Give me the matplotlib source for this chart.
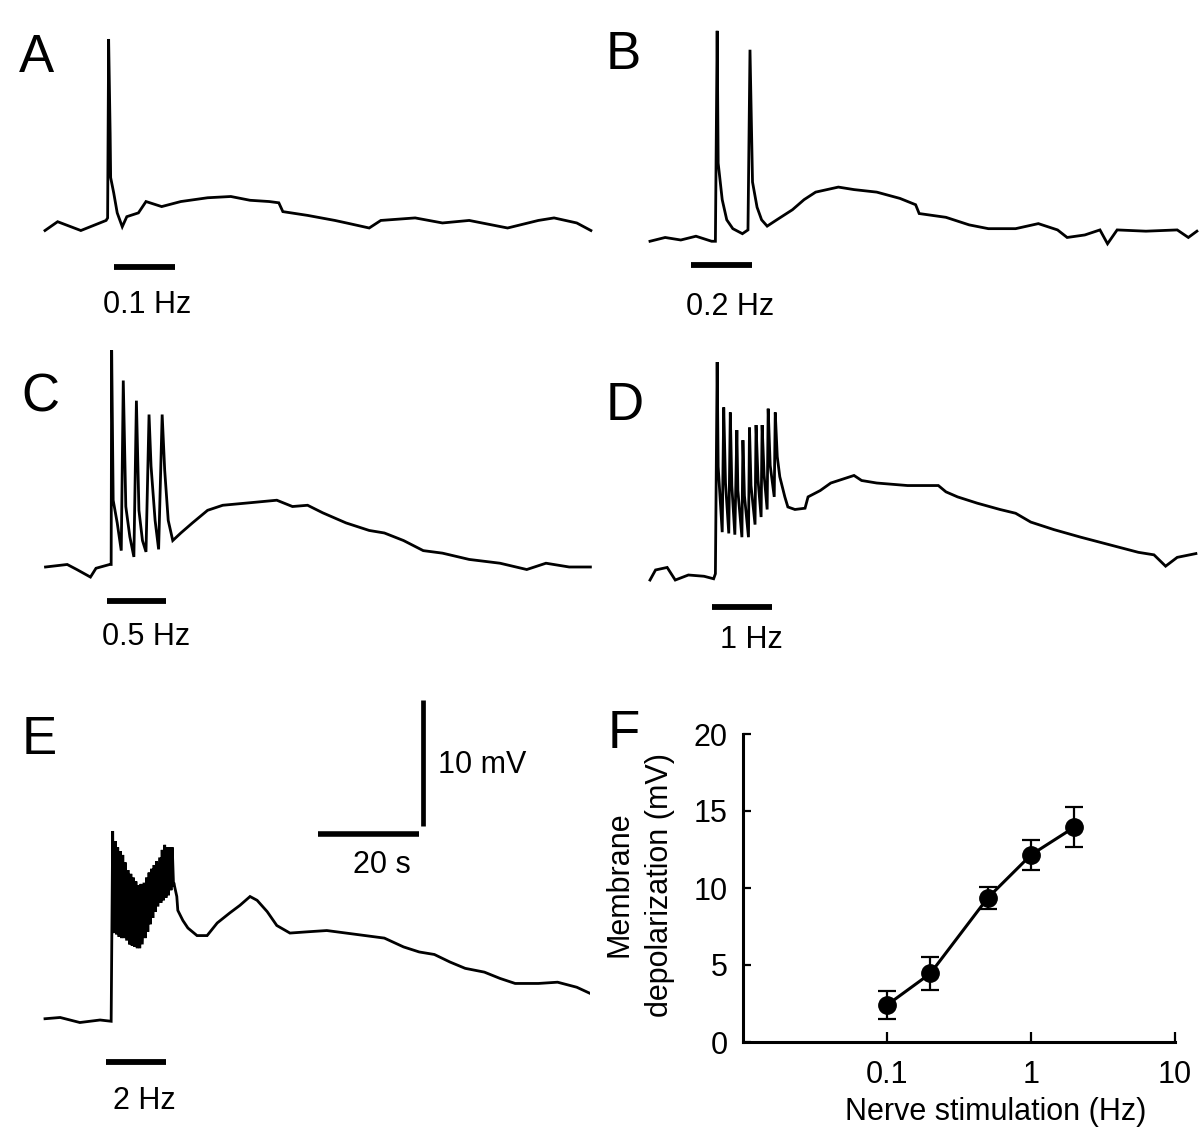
import numpy as np
import matplotlib
matplotlib.use("Agg")
import matplotlib.pyplot as plt

plt.rcParams['font.family'] = ['Liberation Sans', 'DejaVu Sans']

W, H = 1200, 1127
PX_PER_S = 5.05     # horizontal scale of the traces (20 s bar = 101 px)
PX_PER_MV = 12.6    # vertical scale of the traces (10 mV bar = 126 px)

# ---------------- data: traces (time in s, membrane potential in mV re. baseline) ----
A_t = [0, 2.5, 7.1, 12.1, 12.4, 12.6, 12.9, 13.0, 13.6, 14.3, 15.3, 16.2, 18.5, 20.0,
       23.1, 26.9, 32.2, 36.8, 40.6, 44.4, 46.3, 47.1, 52.0, 57.4, 59.7, 64.2, 66.5,
       73.3, 78.7, 84.0, 91.6, 97.7, 100.8, 105.3, 108.1]
A_v = [-0.2, 0.5, -0.2, 0.6, 0.8, 15.0, 7.5, 4.0, 2.8, 1.2, 0.1, 0.9, 1.2, 2.1,
       1.7, 2.1, 2.4, 2.5, 2.2, 2.1, 2.0, 1.3, 1.0, 0.6, 0.4, 0.0, 0.6,
       0.8, 0.4, 0.6, 0.0, 0.6, 0.8, 0.4, -0.2]

B_t = [0, 3.0, 6.1, 9.1, 12.2, 12.95, 13.3, 13.5, 14.3, 15.2, 16.4, 18.3, 19.4,
       19.8, 20.3, 21.2, 22.1, 23.2, 25.1, 28.2, 30.5, 32.8, 37.3, 40.4, 44.9, 49.5,
       52.6, 53.3, 58.6, 63.2, 67.0, 72.4, 76.9, 80.7, 82.6, 86.1, 89.1, 90.6, 92.5,
       98.2, 104.4, 106.6, 108.3]
B_v = [-0.1, 0.2, 0.0, 0.3, -0.1, -0.1, 16.6, 6.1, 3.2, 1.6, 0.9, 0.5, 0.8,
       15.1, 4.6, 2.6, 1.6, 1.1, 1.6, 2.4, 3.2, 3.8, 4.2, 4.0, 3.8, 3.3,
       2.8, 2.1, 1.8, 1.2, 0.9, 0.9, 1.3, 0.8, 0.2, 0.4, 0.8, -0.3, 0.8,
       0.7, 0.8, 0.2, 0.7]

C_t = [0.1, 4.4, 6.3, 9.0, 10.1, 12.8, 13.1, 13.2, 13.5, 14.3, 15.1,
       15.5, 16.0, 16.8, 17.6, 18.1, 18.6, 19.3, 20.0, 20.6, 21.0, 21.8, 22.5,
       23.2, 23.7, 24.4, 25.3, 26.9, 29.2, 32.2, 35.2, 40.6, 45.9, 49.0, 52.0,
       55.0, 59.6, 64.2, 67.2, 71.0, 74.9, 78.7, 84.0, 90.1, 95.4, 99.2, 103.8, 108.0]
C_v = [0.0, 0.2, -0.2, -0.8, -0.1, 0.2, 0.2, 17.2, 5.3, 3.5, 1.3,
       14.8, 4.8, 2.4, 0.8, 13.2, 4.5, 2.1, 1.2, 12.1, 8.0, 3.7, 1.4,
       12.1, 7.7, 3.7, 2.1, 2.7, 3.5, 4.5, 4.9, 5.1, 5.3, 4.8, 4.9,
       4.3, 3.5, 2.9, 2.7, 2.1, 1.3, 1.1, 0.6, 0.3, -0.2, 0.3, 0.0, 0.0]

D_t = [0, 1.1, 3.4, 5.0, 7.6, 10.7, 12.6, 12.95,
       13.3, 13.5, 14.3, 14.6, 14.95, 15.6, 15.9, 16.2, 16.8, 17.2, 17.4, 18.2,
       18.4, 18.7, 19.5, 19.7, 20.0, 20.8, 21.0, 21.4, 22.0, 22.2, 22.6, 23.2,
       23.4, 23.8, 24.6, 24.8, 25.2, 25.7, 26.7, 27.3, 28.7, 30.7, 31.3, 33.7,
       35.8, 38.1, 40.4, 41.9, 44.9, 51.0, 57.1, 58.6, 60.9, 64.8, 69.3, 72.4,
       75.4, 80.0, 85.3, 89.1, 92.9, 96.7, 99.8, 102.1, 104.4, 108.1]
D_v = [-0.4, 0.4, 0.6, -0.4, 0.0, -0.1, -0.3, 0.1,
       16.9, 8.6, 3.4, 13.3, 7.3, 3.3, 12.9, 7.1, 3.2, 11.5, 6.7, 3.0,
       10.7, 6.3, 3.0, 11.7, 7.1, 4.0, 11.9, 7.5, 4.6, 11.9, 7.9, 5.2,
       13.2, 8.7, 6.2, 12.9, 9.4, 7.8, 6.2, 5.4, 5.2, 5.3, 6.2, 6.7,
       7.3, 7.6, 7.9, 7.5, 7.3, 7.1, 7.1, 6.6, 6.2, 5.7, 5.2, 4.9,
       4.2, 3.6, 3.0, 2.6, 2.2, 1.8, 1.6, 0.7, 1.4, 1.7]

E_pre_t = [0, 3.0, 6.9, 10.9, 13.1]
E_pre_v = [0.1, 0.2, -0.2, 0.0, -0.1]
E_burst_t = [13.4, 13.9, 14.4, 14.9, 15.4, 15.9, 16.5, 17.0, 17.5, 18.0, 18.5, 19.0,
             19.6, 20.1, 20.6, 21.1, 21.6, 22.1, 22.7, 23.2, 23.7, 24.2, 24.7, 25.2]
E_burst_peak = [15.0, 14.2, 13.7, 13.4, 13.1, 12.5, 11.9, 11.6, 11.3, 11.0, 10.7, 10.8,
                10.9, 11.3, 11.7, 12.0, 12.3, 12.6, 12.9, 13.5, 13.9, 13.7, 13.7, 13.7]
E_burst_trough = [6.9, 6.8, 6.6, 6.5, 6.5, 6.3, 6.0, 5.9, 5.8, 5.7, 5.7, 6.0,
                  6.5, 7.0, 7.6, 8.1, 8.6, 9.0, 9.3, 9.5, 9.7, 9.9, 10.3, 10.6]
E_post_t = [25.5, 26.1, 26.3, 27.3, 28.3, 30.1, 32.1, 34.1, 36.6, 38.6, 40.6, 42.0,
            44.0, 45.9, 48.5, 52.0, 55.8, 59.6, 63.4, 67.2, 71.0, 74.1, 77.1, 80.2,
            83.2, 87.0, 90.1, 93.1, 97.7, 101.5, 105.3, 108.0]
E_post_v = [10.9, 9.8, 8.7, 7.9, 7.3, 6.7, 6.7, 7.7, 8.5, 9.1, 9.8, 9.5,
            8.6, 7.5, 6.9, 7.0, 7.1, 6.9, 6.7, 6.5, 5.8, 5.4, 5.2, 4.6,
            4.1, 3.8, 3.3, 2.9, 2.9, 3.0, 2.6, 2.1]

# stimulation bars (start s, end s) and their labels
stim_labels = ['0.1 Hz', '0.2 Hz', '0.5 Hz', '1 Hz', '2 Hz']
stim_start = [13.7, 8.1, 12.3, 12.3, 12.1]
stim_end = [25.7, 20.2, 24.0, 24.2, 24.0]

# scale bars
scale_time_s = 20
scale_volt_mV = 10

# ---------------- data: panel F ----------------
F_freq = [0.1, 0.2, 0.5, 1, 2]
F_mean = [2.4, 4.45, 9.35, 12.15, 13.95]
F_err = [0.9, 1.05, 0.7, 0.95, 1.3]
F_xticks = [0.1, 1, 10]
F_xticklabels = ['0.1', '1', '10']
F_yticks = [0, 5, 10, 15, 20]

# ---------------- figure ----------------
fig = plt.figure(figsize=(12, 11.27), dpi=100)


def trace_axes(box, origin):
    L, T, R, B = box
    ox, oy = origin
    ax = fig.add_axes([L / W, 1 - B / H, (R - L) / W, (B - T) / H])
    ax.set_xlim((L - ox) / PX_PER_S, (R - ox) / PX_PER_S)
    ax.set_ylim((oy - B) / PX_PER_MV, (oy - T) / PX_PER_MV)
    ax.axis('off')
    return ax


E_t = list(E_pre_t)
E_v = list(E_pre_v)
for t, p, tr in zip(E_burst_t, E_burst_peak, E_burst_trough):
    E_t += [t, t + 0.26]
    E_v += [p, tr]
E_t += E_post_t
E_v += E_post_v

panels = [
    ('A', (0, 0, 600, 330), (45, 228), A_t, A_v, -3.1, (20.2, -4.9), (19, 72)),
    ('B', (600, 0, 1200, 330), (650, 240), B_t, B_v, -2.0, (15.8, -4.1), (606, 69)),
    ('C', (0, 330, 600, 670), (45, 567), C_t, C_v, -2.7, (20.0, -4.4), (21, 412)),
    ('D', (600, 330, 1200, 670), (650, 575), D_t, D_v, -2.5, (20.0, -4.0), (606, 420)),
    ('E', (0, 680, 590, 1127), (45, 1020), E_t, E_v, -3.3, (19.7, -5.2), (22, 754)),
]

trace_lw = 2.0
for i, (letter, box, origin, t, v, bar_y, lab_pos, let_pos) in enumerate(panels):
    ax = trace_axes(box, origin)
    ax.plot(t, v, color='black', lw=trace_lw, solid_joinstyle='miter')
    ax.plot([stim_start[i], stim_end[i]], [bar_y, bar_y], color='black', lw=4.2,
            solid_capstyle='butt')
    ax.text(lab_pos[0], lab_pos[1], stim_labels[i], ha='center', va='top', fontsize=22)
    fig.text(let_pos[0] / W, 1 - let_pos[1] / H, letter, fontsize=38, va='baseline',
             ha='left')
    if letter == 'E':
        # scale bars
        t_end = 74.1
        v_h = 14.8
        ax.plot([t_end - scale_time_s, t_end], [v_h, v_h], color='black', lw=4.0,
                solid_capstyle='butt')
        ax.plot([t_end + 0.8, t_end + 0.8], [v_h + 0.6, v_h + 0.6 + scale_volt_mV],
                color='black', lw=3.4, solid_capstyle='butt')
        ax.text(t_end - scale_time_s / 2 + 2.6, v_h - 1.3, f'{scale_time_s} s',
                ha='center', va='top', fontsize=22)
        ax.text(t_end + 3.7, v_h + 0.6 + scale_volt_mV / 2 - 0.2, f'{scale_volt_mV} mV',
                ha='left', va='center', fontsize=22)

# ---------------- panel F ----------------
axF = fig.add_axes([743 / W, 1 - 1042 / H, 432 / W, 308 / H])
axF.plot(F_freq, F_mean, color='black', lw=2.2, zorder=2)
axF.errorbar(F_freq, F_mean, yerr=F_err, fmt='none', ecolor='black', elinewidth=1.6,
             capsize=6.5, capthick=1.6, zorder=2)
axF.plot(F_freq, F_mean, 'o', color='black', ms=12.5, zorder=3)
axF.set_xscale('log')
axF.set_xlim(0.01, 10)
axF.set_ylim(0, 20)
axF.set_xticks(F_xticks)
axF.set_xticklabels(F_xticklabels)
axF.xaxis.set_minor_locator(matplotlib.ticker.NullLocator())
axF.set_yticks(F_yticks)
for s in ['top', 'right']:
    axF.spines[s].set_visible(False)
for s in ['left', 'bottom']:
    axF.spines[s].set_linewidth(2.2)
axF.tick_params(axis='x', direction='in', length=7, width=1.6, labelsize=22, pad=13)
axF.tick_params(axis='y', direction='in', length=5.5, width=1.6, labelsize=22, pad=11)
axF.set_xlabel('Nerve stimulation (Hz)', fontsize=22, labelpad=8)
axF.xaxis.set_label_coords(0.585, -0.18)
# two-line y label, written as two separate lines
fig.text(619 / W, 1 - 884 / H, 'Membrane', rotation=90,
         ha='center', va='center', fontsize=22)
fig.text(660 / W, 1 - 885 / H, 'depolarization (mV)', rotation=90,
         ha='center', va='center', fontsize=22)
fig.text(608 / W, 1 - 748 / H, 'F', fontsize=38, va='baseline', ha='left')

fig.savefig('out.png', dpi=100)
